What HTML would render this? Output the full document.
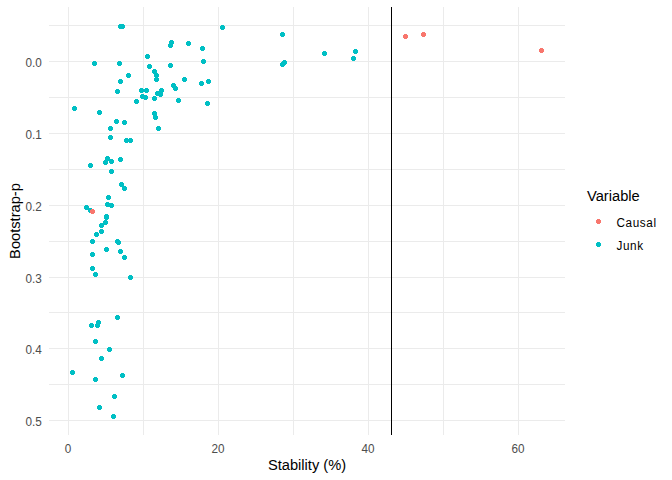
<!DOCTYPE html>
<html><head><meta charset="utf-8"><style>
html,body{margin:0;padding:0;background:#fff;}
svg{display:block;}
text{font-family:"Liberation Sans",sans-serif;}
.ax{font-size:11.73px;fill:#4D4D4D;}
.ti{font-size:14.67px;fill:#000;}
.lg{font-size:11.73px;fill:#000;letter-spacing:0.6px;}
</style></head><body>
<svg width="672" height="480" viewBox="0 0 672 480">
<rect width="672" height="480" fill="#fff"/>
<rect x="68" y="7" width="1" height="428" fill="#EBEBEB"/>
<rect x="143" y="7" width="1" height="428" fill="#EBEBEB"/>
<rect x="218" y="7" width="1" height="428" fill="#EBEBEB"/>
<rect x="293" y="7" width="1" height="428" fill="#EBEBEB"/>
<rect x="368" y="7" width="1" height="428" fill="#EBEBEB"/>
<rect x="443" y="7" width="1" height="428" fill="#EBEBEB"/>
<rect x="518" y="7" width="1" height="428" fill="#EBEBEB"/>
<rect x="49" y="25" width="516" height="1" fill="#EBEBEB"/>
<rect x="49" y="61" width="516" height="1" fill="#EBEBEB"/>
<rect x="49" y="97" width="516" height="1" fill="#EBEBEB"/>
<rect x="49" y="133" width="516" height="1" fill="#EBEBEB"/>
<rect x="49" y="169" width="516" height="1" fill="#EBEBEB"/>
<rect x="49" y="205" width="516" height="1" fill="#EBEBEB"/>
<rect x="49" y="241" width="516" height="1" fill="#EBEBEB"/>
<rect x="49" y="277" width="516" height="1" fill="#EBEBEB"/>
<rect x="49" y="312" width="516" height="1" fill="#EBEBEB"/>
<rect x="49" y="348" width="516" height="1" fill="#EBEBEB"/>
<rect x="49" y="384" width="516" height="1" fill="#EBEBEB"/>
<rect x="49" y="420" width="516" height="1" fill="#EBEBEB"/>
<path d="M119 24h3v1h1v3h-1v1h-3v-1h-1v-3h1z" fill="#00BFC4"/>
<path d="M121 24h3v1h1v3h-1v1h-3v-1h-1v-3h1z" fill="#00BFC4"/>
<path d="M93 61h3v1h1v3h-1v1h-3v-1h-1v-3h1z" fill="#00BFC4"/>
<path d="M118 61h3v1h1v3h-1v1h-3v-1h-1v-3h1z" fill="#00BFC4"/>
<path d="M170 40h3v1h1v3h-1v1h-3v-1h-1v-3h1z" fill="#00BFC4"/>
<path d="M169 43h3v1h1v3h-1v1h-3v-1h-1v-3h1z" fill="#00BFC4"/>
<path d="M187 41h3v1h1v3h-1v1h-3v-1h-1v-3h1z" fill="#00BFC4"/>
<path d="M201 46h3v1h1v3h-1v1h-3v-1h-1v-3h1z" fill="#00BFC4"/>
<path d="M146 54h3v1h1v3h-1v1h-3v-1h-1v-3h1z" fill="#00BFC4"/>
<path d="M202 59h3v1h1v3h-1v1h-3v-1h-1v-3h1z" fill="#00BFC4"/>
<path d="M148 64h3v1h1v3h-1v1h-3v-1h-1v-3h1z" fill="#00BFC4"/>
<path d="M169 63h3v1h1v3h-1v1h-3v-1h-1v-3h1z" fill="#00BFC4"/>
<path d="M153 69h3v1h1v3h-1v1h-3v-1h-1v-3h1z" fill="#00BFC4"/>
<path d="M155 73h3v1h1v3h-1v1h-3v-1h-1v-3h1z" fill="#00BFC4"/>
<path d="M155 77h3v1h1v3h-1v1h-3v-1h-1v-3h1z" fill="#00BFC4"/>
<path d="M127 73h3v1h1v3h-1v1h-3v-1h-1v-3h1z" fill="#00BFC4"/>
<path d="M119 79h3v1h1v3h-1v1h-3v-1h-1v-3h1z" fill="#00BFC4"/>
<path d="M183 77h3v1h1v3h-1v1h-3v-1h-1v-3h1z" fill="#00BFC4"/>
<path d="M200 81h3v1h1v3h-1v1h-3v-1h-1v-3h1z" fill="#00BFC4"/>
<path d="M207 79h3v1h1v3h-1v1h-3v-1h-1v-3h1z" fill="#00BFC4"/>
<path d="M172 83h3v1h1v3h-1v1h-3v-1h-1v-3h1z" fill="#00BFC4"/>
<path d="M174 86h3v1h1v3h-1v1h-3v-1h-1v-3h1z" fill="#00BFC4"/>
<path d="M221 25h3v1h1v3h-1v1h-3v-1h-1v-3h1z" fill="#00BFC4"/>
<path d="M281 32h3v1h1v3h-1v1h-3v-1h-1v-3h1z" fill="#00BFC4"/>
<path d="M283 60h3v1h1v3h-1v1h-3v-1h-1v-3h1z" fill="#00BFC4"/>
<path d="M281 62h3v1h1v3h-1v1h-3v-1h-1v-3h1z" fill="#00BFC4"/>
<path d="M323 51h3v1h1v3h-1v1h-3v-1h-1v-3h1z" fill="#00BFC4"/>
<path d="M354 49h3v1h1v3h-1v1h-3v-1h-1v-3h1z" fill="#00BFC4"/>
<path d="M352 56h3v1h1v3h-1v1h-3v-1h-1v-3h1z" fill="#00BFC4"/>
<path d="M116 89h3v1h1v3h-1v1h-3v-1h-1v-3h1z" fill="#00BFC4"/>
<path d="M140 88h3v1h1v3h-1v1h-3v-1h-1v-3h1z" fill="#00BFC4"/>
<path d="M145 88h3v1h1v3h-1v1h-3v-1h-1v-3h1z" fill="#00BFC4"/>
<path d="M141 94h3v1h1v3h-1v1h-3v-1h-1v-3h1z" fill="#00BFC4"/>
<path d="M144 95h3v1h1v3h-1v1h-3v-1h-1v-3h1z" fill="#00BFC4"/>
<path d="M135 99h3v1h1v3h-1v1h-3v-1h-1v-3h1z" fill="#00BFC4"/>
<path d="M153 96h3v1h1v3h-1v1h-3v-1h-1v-3h1z" fill="#00BFC4"/>
<path d="M73 106h3v1h1v3h-1v1h-3v-1h-1v-3h1z" fill="#00BFC4"/>
<path d="M98 110h3v1h1v3h-1v1h-3v-1h-1v-3h1z" fill="#00BFC4"/>
<path d="M153 111h3v1h1v3h-1v1h-3v-1h-1v-3h1z" fill="#00BFC4"/>
<path d="M154 115h3v1h1v3h-1v1h-3v-1h-1v-3h1z" fill="#00BFC4"/>
<path d="M115 119h3v1h1v3h-1v1h-3v-1h-1v-3h1z" fill="#00BFC4"/>
<path d="M123 120h3v1h1v3h-1v1h-3v-1h-1v-3h1z" fill="#00BFC4"/>
<path d="M109 126h3v1h1v3h-1v1h-3v-1h-1v-3h1z" fill="#00BFC4"/>
<path d="M109 135h3v1h1v3h-1v1h-3v-1h-1v-3h1z" fill="#00BFC4"/>
<path d="M125 138h3v1h1v3h-1v1h-3v-1h-1v-3h1z" fill="#00BFC4"/>
<path d="M129 138h3v1h1v3h-1v1h-3v-1h-1v-3h1z" fill="#00BFC4"/>
<path d="M160 88h3v1h1v3h-1v1h-3v-1h-1v-3h1z" fill="#00BFC4"/>
<path d="M156 91h3v1h1v3h-1v1h-3v-1h-1v-3h1z" fill="#00BFC4"/>
<path d="M159 92h3v1h1v3h-1v1h-3v-1h-1v-3h1z" fill="#00BFC4"/>
<path d="M177 98h3v1h1v3h-1v1h-3v-1h-1v-3h1z" fill="#00BFC4"/>
<path d="M206 101h3v1h1v3h-1v1h-3v-1h-1v-3h1z" fill="#00BFC4"/>
<path d="M157 126h3v1h1v3h-1v1h-3v-1h-1v-3h1z" fill="#00BFC4"/>
<path d="M106 156h3v1h1v3h-1v1h-3v-1h-1v-3h1z" fill="#00BFC4"/>
<path d="M104 160h3v1h1v3h-1v1h-3v-1h-1v-3h1z" fill="#00BFC4"/>
<path d="M110 159h3v1h1v3h-1v1h-3v-1h-1v-3h1z" fill="#00BFC4"/>
<path d="M119 157h3v1h1v3h-1v1h-3v-1h-1v-3h1z" fill="#00BFC4"/>
<path d="M89 163h3v1h1v3h-1v1h-3v-1h-1v-3h1z" fill="#00BFC4"/>
<path d="M110 169h3v1h1v3h-1v1h-3v-1h-1v-3h1z" fill="#00BFC4"/>
<path d="M120 182h3v1h1v3h-1v1h-3v-1h-1v-3h1z" fill="#00BFC4"/>
<path d="M123 186h3v1h1v3h-1v1h-3v-1h-1v-3h1z" fill="#00BFC4"/>
<path d="M107 195h3v1h1v3h-1v1h-3v-1h-1v-3h1z" fill="#00BFC4"/>
<path d="M106 202h3v1h1v3h-1v1h-3v-1h-1v-3h1z" fill="#00BFC4"/>
<path d="M110 203h3v1h1v3h-1v1h-3v-1h-1v-3h1z" fill="#00BFC4"/>
<path d="M85 205h3v1h1v3h-1v1h-3v-1h-1v-3h1z" fill="#00BFC4"/>
<path d="M89 208h3v1h1v3h-1v1h-3v-1h-1v-3h1z" fill="#00BFC4"/>
<path d="M105 214h3v1h1v3h-1v1h-3v-1h-1v-3h1z" fill="#00BFC4"/>
<path d="M105 215h3v1h1v3h-1v1h-3v-1h-1v-3h1z" fill="#00BFC4"/>
<path d="M104 220h3v1h1v3h-1v1h-3v-1h-1v-3h1z" fill="#00BFC4"/>
<path d="M100 223h3v1h1v3h-1v1h-3v-1h-1v-3h1z" fill="#00BFC4"/>
<path d="M100 229h3v1h1v3h-1v1h-3v-1h-1v-3h1z" fill="#00BFC4"/>
<path d="M95 232h3v1h1v3h-1v1h-3v-1h-1v-3h1z" fill="#00BFC4"/>
<path d="M91 239h3v1h1v3h-1v1h-3v-1h-1v-3h1z" fill="#00BFC4"/>
<path d="M116 239h3v1h1v3h-1v1h-3v-1h-1v-3h1z" fill="#00BFC4"/>
<path d="M117 240h3v1h1v3h-1v1h-3v-1h-1v-3h1z" fill="#00BFC4"/>
<path d="M105 247h3v1h1v3h-1v1h-3v-1h-1v-3h1z" fill="#00BFC4"/>
<path d="M119 249h3v1h1v3h-1v1h-3v-1h-1v-3h1z" fill="#00BFC4"/>
<path d="M91 252h3v1h1v3h-1v1h-3v-1h-1v-3h1z" fill="#00BFC4"/>
<path d="M123 255h3v1h1v3h-1v1h-3v-1h-1v-3h1z" fill="#00BFC4"/>
<path d="M91 266h3v1h1v3h-1v1h-3v-1h-1v-3h1z" fill="#00BFC4"/>
<path d="M94 272h3v1h1v3h-1v1h-3v-1h-1v-3h1z" fill="#00BFC4"/>
<path d="M129 275h3v1h1v3h-1v1h-3v-1h-1v-3h1z" fill="#00BFC4"/>
<path d="M116 315h3v1h1v3h-1v1h-3v-1h-1v-3h1z" fill="#00BFC4"/>
<path d="M97 320h3v1h1v3h-1v1h-3v-1h-1v-3h1z" fill="#00BFC4"/>
<path d="M96 323h3v1h1v3h-1v1h-3v-1h-1v-3h1z" fill="#00BFC4"/>
<path d="M90 323h3v1h1v3h-1v1h-3v-1h-1v-3h1z" fill="#00BFC4"/>
<path d="M94 339h3v1h1v3h-1v1h-3v-1h-1v-3h1z" fill="#00BFC4"/>
<path d="M108 347h3v1h1v3h-1v1h-3v-1h-1v-3h1z" fill="#00BFC4"/>
<path d="M100 356h3v1h1v3h-1v1h-3v-1h-1v-3h1z" fill="#00BFC4"/>
<path d="M71 370h3v1h1v3h-1v1h-3v-1h-1v-3h1z" fill="#00BFC4"/>
<path d="M121 373h3v1h1v3h-1v1h-3v-1h-1v-3h1z" fill="#00BFC4"/>
<path d="M94 377h3v1h1v3h-1v1h-3v-1h-1v-3h1z" fill="#00BFC4"/>
<path d="M113 394h3v1h1v3h-1v1h-3v-1h-1v-3h1z" fill="#00BFC4"/>
<path d="M98 405h3v1h1v3h-1v1h-3v-1h-1v-3h1z" fill="#00BFC4"/>
<path d="M112 414h3v1h1v3h-1v1h-3v-1h-1v-3h1z" fill="#00BFC4"/>
<path d="M404 34h3v1h1v3h-1v1h-3v-1h-1v-3h1z" fill="#F8766D"/>
<path d="M422 32h3v1h1v3h-1v1h-3v-1h-1v-3h1z" fill="#F8766D"/>
<path d="M540 48h3v1h1v3h-1v1h-3v-1h-1v-3h1z" fill="#F8766D"/>
<path d="M91 209h3v1h1v3h-1v1h-3v-1h-1v-3h1z" fill="#F8766D"/>
<rect x="391" y="7" width="1" height="428" fill="#000"/>
<text transform="translate(41.7,67) scale(1,1.1)" text-anchor="end" class="ax">0.0</text>
<text transform="translate(41.7,139) scale(1,1.1)" text-anchor="end" class="ax">0.1</text>
<text transform="translate(41.7,211) scale(1,1.1)" text-anchor="end" class="ax">0.2</text>
<text transform="translate(41.7,283) scale(1,1.1)" text-anchor="end" class="ax">0.3</text>
<text transform="translate(41.7,354) scale(1,1.1)" text-anchor="end" class="ax">0.4</text>
<text transform="translate(41.7,426) scale(1,1.1)" text-anchor="end" class="ax">0.5</text>
<text transform="translate(68.1,453) scale(1,1.1)" text-anchor="middle" class="ax">0</text>
<text transform="translate(218.1,453) scale(1,1.1)" text-anchor="middle" class="ax">20</text>
<text transform="translate(368.1,453) scale(1,1.1)" text-anchor="middle" class="ax">40</text>
<text transform="translate(518.1,453) scale(1,1.1)" text-anchor="middle" class="ax">60</text>
<text x="307" y="470.3" text-anchor="middle" class="ti">Stability (%)</text>
<text transform="translate(20,221) rotate(-90)" text-anchor="middle" class="ti">Bootstrap-p</text>
<text x="587" y="200.6" class="ti">Variable</text>
<path d="M597 219h3v1h1v3h-1v1h-3v-1h-1v-3h1z" fill="#F8766D"/>
<path d="M597 242h3v1h1v3h-1v1h-3v-1h-1v-3h1z" fill="#00BFC4"/>
<text transform="translate(616.5,226.9) scale(1,1.1)" class="lg">Causal</text>
<text transform="translate(616.5,250) scale(1,1.1)" class="lg">Junk</text>
</svg>
</body></html>
